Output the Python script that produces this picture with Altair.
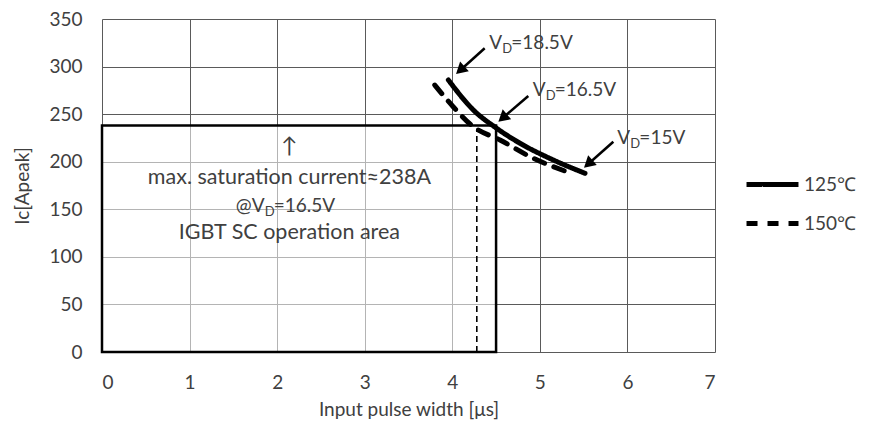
import math
import altair as alt
import pandas as pd

FONT = "Lato"
TXT = "#404040"

# ---- data ----
series = ["125℃", "150℃"]
x125 = [3.955, 4.24, 4.507, 4.773, 5.154, 5.515]
y125 = [285.9, 254.4, 235.1, 219.4, 201.8, 187.8]
x150 = [3.80, 4.01, 4.24, 4.545, 4.925, 5.307]
y150 = [280.6, 257.8, 236.8, 222.8, 203.6, 189.5]

x_ticks = [0, 1, 2, 3, 4, 5, 6, 7]
y_ticks = [0, 50, 100, 150, 200, 250, 300, 350]

rect_x = [0, 4.5]
rect_y = [0, 238]
pulse_x = [4.28]
pulse_y = [0, 235]

# annotation arrows (tail -> head)
arrow_tail_x = [4.37, 4.868, 5.839]
arrow_tail_y = [319.2, 269.1, 221.0]
arrow_head_x = [4.043, 4.526, 5.504]
arrow_head_y = [292.2, 242.1, 193.7]

# V_D labels
vd_prefix = ["", "", "", "@"]
vd_rest = ["=18.5V", "=16.5V", "=15V", "=16.5V"]
vd_x = [4.423, 4.918, 5.885, 1.71]
vd_y = [324.8, 275.4, 224.6, 153.5]

# centered annotation lines
note_text = ["↑", "max. saturation current≈238A", "IGBT SC operation area"]
note_x = [2.14, 2.14, 2.14]
note_y = [215.5, 182.9, 125.1]

# ---- layout ----
W, H = 613, 333
XMAX, YMAX = 7, 350


def X(field):
    return alt.X(
        f"{field}:Q",
        scale=alt.Scale(domain=[0, XMAX], nice=False, zero=False),
        axis=alt.Axis(
            values=x_ticks, title="Input pulse width [μs]", grid=True,
            gridColor="#5a5a5a", gridWidth=1, domain=False, ticks=False,
            tickSize=0, labelPadding=21, labelFontSize=19, labelFont=FONT,
            labelColor=TXT, titleFont=FONT, titleFontSize=19,
            titleFontWeight="normal", titleColor=TXT, titlePadding=8,
        ),
    )


def Y(field):
    return alt.Y(
        f"{field}:Q",
        scale=alt.Scale(domain=[0, YMAX], nice=False, zero=False),
        axis=alt.Axis(
            values=y_ticks, title="Ic[Apeak]", grid=True,
            gridColor="#5a5a5a", gridWidth=1, domain=False, ticks=False,
            tickSize=0, labelPadding=20, labelFontSize=19, labelFont=FONT,
            labelColor=TXT, titleFont=FONT, titleFontSize=19,
            titleFontWeight="normal", titleColor=TXT, titlePadding=16,
        ),
    )


curves = pd.DataFrame(
    {
        "x": x125 + x150,
        "y": y125 + y150,
        "series": [series[0]] * len(x125) + [series[1]] * len(x150),
    }
)

rect_df = pd.DataFrame({"x0": [rect_x[0]], "x1": [rect_x[1]], "y0": [rect_y[0]], "y1": [rect_y[1]]})
pulse_df = pd.DataFrame({"x": pulse_x, "y0": [pulse_y[0]], "y1": [pulse_y[1]]})

# arrow geometry (computed from the data)
pxx, pxy = W / XMAX, H / YMAX
tri_size = 170
tri_h = math.sqrt(3) * (math.sqrt(tri_size) / 2) / 2
rows = []
for tx, ty, hx, hy in zip(arrow_tail_x, arrow_tail_y, arrow_head_x, arrow_head_y):
    dxp = (hx - tx) * pxx
    dyp = -(hy - ty) * pxy
    L = math.hypot(dxp, dyp)
    ux, uy = dxp / L, dyp / L
    ang = math.degrees(math.atan2(dxp, -dyp)) % 360
    cx = hx - tri_h * ux / pxx
    cy = hy + tri_h * uy / pxy
    rows.append({"tx": tx, "ty": ty, "cx": cx, "cy": cy, "ang": ang})
arrows = pd.DataFrame(rows)

shaft_df = pd.DataFrame(
    {
        "x": list(arrows.tx) + list(arrows.cx),
        "y": list(arrows.ty) + list(arrows.cy),
        "k": list(range(len(arrows))) * 2,
        "o": [0] * len(arrows) + [1] * len(arrows),
    }
)

vd_df = pd.DataFrame({"x": vd_x, "y": vd_y, "pre": vd_prefix, "rest": vd_rest, "v": ["V"] * 4, "d": ["D"] * 4})
note_df = pd.DataFrame({"x": note_x, "y": note_y, "t": note_text})

rect = alt.Chart(rect_df).mark_rect(
    fill="white", fillOpacity=0.55, stroke="black", strokeWidth=2.5
).encode(x=X("x0"), x2="x1", y=Y("y0"), y2="y1")

pulse = alt.Chart(pulse_df).mark_rule(
    color="black", strokeWidth=1.6, strokeDash=[6, 4]
).encode(x=X("x"), y=Y("y0"), y2="y1")

lines = alt.Chart(curves).mark_line(
    color="black", strokeWidth=5, strokeCap="round", interpolate="monotone"
).encode(
    x=X("x"),
    y=Y("y"),
    detail="series:N",
    strokeDash=alt.StrokeDash(
        "series:N",
        scale=alt.Scale(domain=series, range=[[1, 0], [11, 10]]),
        legend=alt.Legend(
            title=None, orient="none", legendX=642, legendY=137,
            symbolType="stroke", symbolSize=2700, symbolStrokeWidth=5,
            symbolStrokeColor="black", labelFont=FONT, labelFontSize=19,
            labelColor=TXT, rowPadding=-10, labelOffset=3, padding=0,
        ),
    ),
)

shafts = alt.Chart(shaft_df).mark_line(color="black", strokeWidth=2.5).encode(
    x=X("x"), y=Y("y"), detail="k:N", order="o:Q"
)
heads = alt.Chart(arrows).mark_point(
    shape="triangle-up", filled=True, color="black", size=tri_size, opacity=1
).encode(x=X("cx"), y=Y("cy"), angle=alt.Angle("ang:Q", scale=None))

tstyle = dict(font=FONT, fontSize=19, color=TXT, baseline="middle")
t_pre = alt.Chart(vd_df).mark_text(align="right", **tstyle).encode(x=X("x"), y=Y("y"), text="pre:N")
t_v = alt.Chart(vd_df).mark_text(align="left", **tstyle).encode(x=X("x"), y=Y("y"), text="v:N")
t_d = alt.Chart(vd_df).mark_text(
    align="left", font=FONT, fontSize=13, color=TXT, baseline="middle", dx=13, dy=6
).encode(x=X("x"), y=Y("y"), text="d:N")
t_rest = alt.Chart(vd_df).mark_text(align="left", dx=22, **tstyle).encode(x=X("x"), y=Y("y"), text="rest:N")
t_note = alt.Chart(note_df).mark_text(
    align="center", font=FONT, fontSize=21.5, color=TXT, baseline="middle"
).encode(x=X("x"), y=Y("y"), text="t:N")

chart = alt.layer(
    rect, pulse, lines, shafts, heads, t_pre, t_v, t_d, t_rest, t_note
).properties(
    width=W, height=H, autosize="none",
    padding={"left": 94, "top": 11, "right": 155, "bottom": 70},
).configure_view(stroke=None)

chart.save("out.html", embed_options={"renderer": "svg", "actions": False})
